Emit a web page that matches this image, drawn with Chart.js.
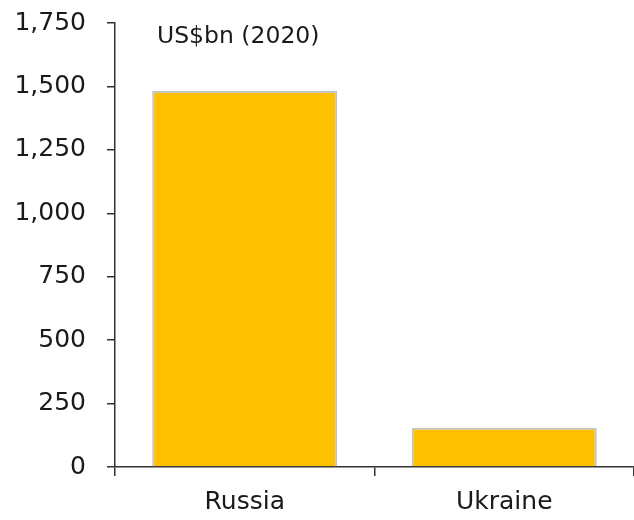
<!DOCTYPE html>
<html>
<head>
<meta charset="utf-8">
<script src="https://cdn.jsdelivr.net/npm/chart.js@4"></script>
<style>
  html, body { margin: 0; padding: 0; background: #fff; }
  #wrap { position: relative; width: 634px; height: 520px; }
</style>
</head>
<body>
<div id="wrap"><canvas id="myChart"></canvas></div>
<script>
const categories = ['Russia', 'Ukraine']
const gdpValues = [1482, 155]
const yTicks = [0, 250, 500, 750, 1000, 1250, 1500, 1750]
const unitLabel = 'US$bn (2020)'

const fontFamily = '"DejaVu Sans", sans-serif'

// draws the unit note inside the plot, top left
const unitNote = {
	id: 'unitNote',
	afterDraw(chart) {
		const ctx = chart.ctx
		const area = chart.chartArea
		ctx.save()
		ctx.font = '23.5px ' + fontFamily
		ctx.fillStyle = '#1a1a1a'
		ctx.textBaseline = 'middle'
		ctx.fillText(unitLabel, area.left + 42, area.top + 14)
		ctx.restore()
	}
}

const ctx = document.getElementById('myChart')
new Chart(ctx, {
	type: 'bar',
	data: {
		labels: categories,
		datasets: [
			{
				data: gdpValues,
				backgroundColor: '#FFC000',
				borderColor: '#C4C4C4',
				borderWidth: 2,
				categoryPercentage: 1,
				barPercentage: 0.713,
			},
		],
	},
	options: {
		responsive: true,
		maintainAspectRatio: false,
		animation: false,
		layout: {
			padding: { top: 23, right: 0, bottom: 0, left: 0 }
		},
		plugins: {
			legend: { display: false },
			tooltip: { enabled: false },
		},
		scales: {
			x: {
				offset: true,
				grid: {
					offset: true,
					drawOnChartArea: false,
					drawTicks: true,
					tickLength: 9,
					color: '#333',
					lineWidth: 1.5,
				},
				border: { color: '#333', width: 1.5 },
				ticks: {
					color: '#1a1a1a',
					padding: 11,
					font: { family: fontFamily, size: 25 },
				},
				afterFit(scale) {
					scale.height = 53
					scale.paddingLeft = 0
					scale.paddingRight = 0
				},
			},
			y: {
				min: 0,
				max: 1750,
				afterBuildTicks(scale) {
					scale.ticks = yTicks.map(v => ({ value: v }))
				},
				grid: {
					drawOnChartArea: false,
					drawTicks: true,
					tickLength: 8,
					color: '#333',
					lineWidth: 1.5,
				},
				border: { color: '#333', width: 1.5 },
				ticks: {
					color: '#1a1a1a',
					padding: 21,
					font: { family: fontFamily, size: 25 },
					callback: v => v.toLocaleString('en-US'),
				},
				afterFit(scale) {
					scale.width = 115
					scale.paddingTop = 0
					scale.paddingBottom = 0
				},
			},
		},
	},
	plugins: [unitNote],
})
</script>
</body>
</html>
